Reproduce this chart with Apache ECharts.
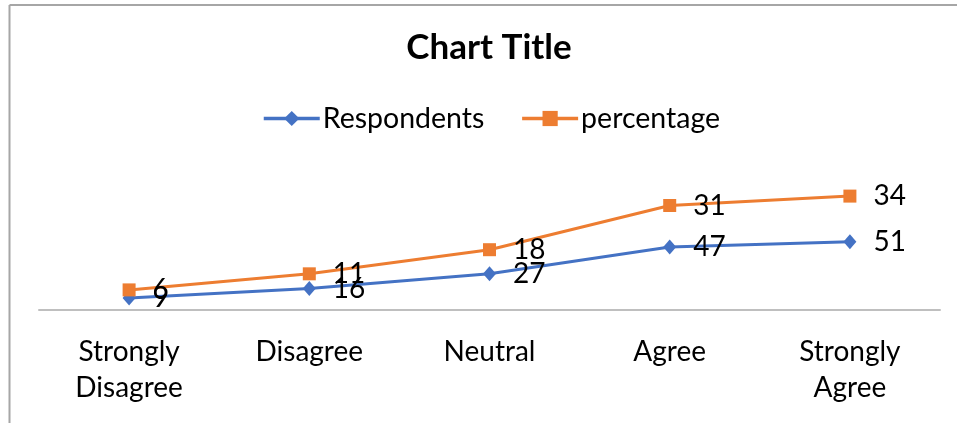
<!DOCTYPE html>
<html>
<head>
<meta charset="utf-8">
<script src="https://cdn.jsdelivr.net/npm/echarts@6/dist/echarts.min.js"></script>
<style>
  html, body { margin: 0; padding: 0; background: #fff; }
  #chart { width: 957px; height: 423px; }
</style>
</head>
<body>
<div id="chart"></div>
<script>
// Survey responses per agreement level
const categories = ['Strongly\nDisagree', 'Disagree', 'Neutral', 'Agree', 'Strongly\nAgree'];
const respondents = [9, 16, 27, 47, 51];
const percentage = [6, 11, 18, 31, 34];

const FONT = 'Lato';

const chart = echarts.init(document.getElementById('chart'));

const labelStyle = {
  show: true,
  position: 'right',
  distance: 17,
  fontFamily: FONT,
  fontSize: 28,
  color: '#000'
};

chart.setOption({
  animation: false,
  backgroundColor: '#fff',
  title: {
    text: 'Chart Title',
    left: 489,
    textAlign: 'center',
    top: 30,
    padding: 0,
    textStyle: { fontFamily: FONT, fontSize: 35, fontWeight: 'bold', color: '#000' }
  },
  legend: {
    left: 262,
    top: 104,
    padding: 0,
    itemWidth: 56,
    itemHeight: 19,
    itemGap: 36,
    lineStyle: { width: 3.5 },
    textStyle: { fontFamily: FONT, fontSize: 28.5, color: '#000', padding: [0, 0, 0, -2] },
    data: ['Respondents', 'percentage']
  },
  grid: { left: 39, right: 17, top: 176, bottom: 113, containLabel: false },
  xAxis: {
    type: 'category',
    data: categories,
    boundaryGap: true,
    axisLine: { lineStyle: { color: '#bfbfbf', width: 2 } },
    axisTick: { show: false },
    axisLabel: {
      interval: 0,
      margin: 24,
      fontFamily: FONT,
      fontSize: 28,
      lineHeight: 36,
      color: '#000'
    }
  },
  yAxis: {
    type: 'value',
    min: 0,
    max: 100,
    show: false,
    splitLine: { show: false }
  },
  series: [
    {
      name: 'Respondents',
      type: 'line',
      stack: 'total',
      data: respondents,
      symbol: 'diamond',
      symbolSize: [13, 15],
      lineStyle: { color: '#4472C4', width: 3 },
      itemStyle: { color: '#4472C4' },
      label: labelStyle
    },
    {
      name: 'percentage',
      type: 'line',
      stack: 'total',
      data: percentage,
      symbol: 'rect',
      symbolSize: 13,
      lineStyle: { color: '#ED7D31', width: 3 },
      itemStyle: { color: '#ED7D31' },
      label: labelStyle
    }
  ],
  graphic: [
    { type: 'line', shape: { x1: 9.5, y1: 5, x2: 957, y2: 5 }, style: { stroke: '#a6a6a6', lineWidth: 2 } },
    { type: 'line', shape: { x1: 9.5, y1: 5, x2: 9.5, y2: 423 }, style: { stroke: '#a6a6a6', lineWidth: 2 } }
  ]
});
</script>
</body>
</html>
